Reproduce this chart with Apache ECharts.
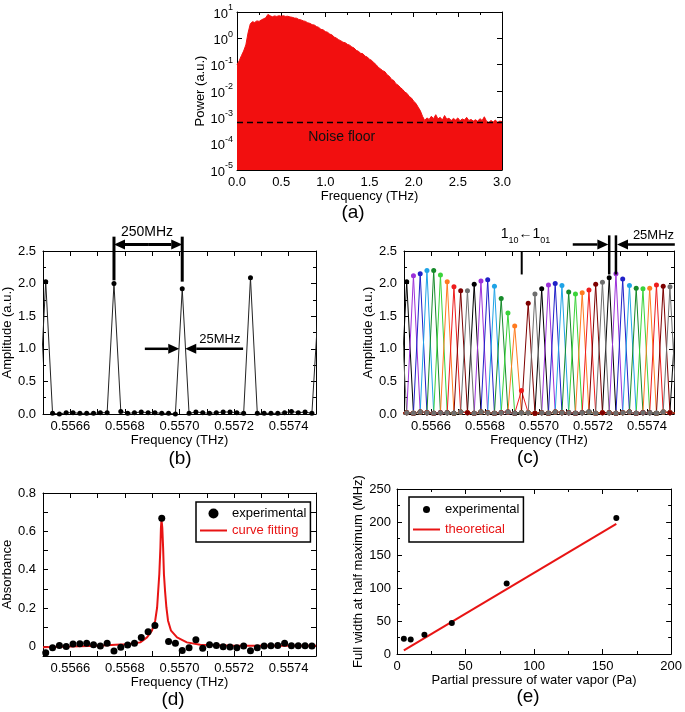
<!DOCTYPE html>
<html><head><meta charset="utf-8">
<script src="https://cdn.jsdelivr.net/npm/echarts@6/dist/echarts.min.js"></script>
<style>html,body{margin:0;padding:0;background:#fff}#c{width:685px;height:712px}</style>
</head><body><div id="c"></div>
<script>
const FONT = '"Liberation Sans", Arial, Helvetica, sans-serif';

// ---------- (a) THz power spectrum ----------
const specStart = 0.0, specStep = 0.025;           // THz
const specPower = [
 0.10,0.14,0.22,0.33,0.56,1.6,3.5,4.3,4.0,4.6,
 4.4,5.0,5.5,6.0,8.1,7.2,6.6,7.1,6.8,7.2,
 6.9,7.2,6.8,6.9,6.5,6.3,5.9,5.8,5.2,5.0,
 4.6,4.4,3.9,3.7,3.3,3.2,2.8,2.6,2.2,2.1,
 1.8,1.7,1.45,1.35,1.12,1.02,0.89,0.81,0.71,0.68,
 0.59,0.55,0.47,0.43,0.35,0.32,0.27,0.26,0.21,0.195,
 0.16,0.145,0.118,0.10,0.079,0.069,0.059,0.054,0.041,0.036,
 0.0275,0.025,0.0186,0.0166,0.0135,0.0115,0.0091,0.0081,0.0062,0.0054,
 0.0041,0.0034,0.00245,0.0018,0.0011,7.6e-4,9.5e-4,8.3e-4,1.1e-3,8.9e-4,
 1.26e-3,8.7e-4,1.0e-3,7.9e-4,1.17e-3,8.5e-4,9.3e-4,7.6e-4,9.1e-4,7.9e-4,
 9.5e-4,7.4e-4,8.7e-4,7.9e-4,1.0e-3,7.6e-4,8.3e-4,7.2e-4,8.1e-4,7.1e-4,
 8.9e-4,7.6e-4,1.05e-3,7.1e-4,6.3e-4,7.6e-4,6.6e-4,7.9e-4,6.3e-4,7.2e-4,
 6.9e-4
];
const noiseFloor = 6.4e-4;
const thzMin = 0, thzMax = 3.0, thzInterval = 0.5;
const powerMin = 1e-5, powerMax = 10;

// ---------- frequency grid shared by (b), (c), (d) : 25 MHz steps ----------
const gridStart = 0.556485, gridStep = 0.000025;   // THz, first point index -1
const freqTicks  = [0.5565,0.5566,0.5567,0.5568,0.5569,0.5570,0.5571,0.5572,0.5573,0.5574,0.5575];
const freqLabels = [0.5566,0.5568,0.5570,0.5572,0.5574];

// ---------- (b) single comb, amplitude ----------
const ampB = [0.0,
 2.03,0.01,0.0,0.02,0.02,0.01,0.01,0.01,0.02,0.02,
 2.00,0.04,0.01,0.02,0.03,0.02,0.02,0.01,0.01,0.0,
 1.92,0.01,0.03,0.02,0.01,0.02,0.03,0.03,0.02,0.01,
 2.09,0.01,0.01,0.01,0.01,0.02,0.04,0.02,0.03,0.01,
 1.75];

// ---------- (c) 10 interleaved combs ----------
const combColors = ['#000000','#9b30d9','#2020c8','#1fa3e6','#168a2a','#3ad33a','#ff7a1f','#ee1c1c','#7d0000','#6e6e6e'];
const peaksC = [1.90,
 2.03,2.12,2.15,2.20,2.20,2.13,2.03,1.95,1.89,1.89,
 1.99,2.04,2.06,1.96,1.77,1.55,1.35,0.36,1.70,1.84,
 1.92,1.98,2.00,1.97,1.87,1.84,1.86,1.90,1.99,2.02,
 2.09,2.15,2.07,1.97,1.93,1.92,1.93,1.98,1.96,1.95,
 1.75];
const baseC = [0.01,
 0.02,0.01,0.03,0.02,0.01,0.02,0.02,0.01,0.03,0.02,
 0.01,0.03,0.02,0.01,0.02,0.03,0.01,0.02,0.02,0.01,
 0.02,0.01,0.03,0.02,0.02,0.01,0.02,0.03,0.01,0.02,
 0.02,0.01,0.02,0.03,0.01,0.02,0.02,0.01,0.03,0.02,
 0.01];

// ---------- (d) absorbance ----------
const absD = [
 -0.033,-0.007,0.005,0.0,0.012,0.014,0.017,0.009,0.002,0.016,
 -0.024,-0.005,0.007,0.017,0.047,0.076,0.109,0.668,0.026,0.016,
 -0.021,-0.007,0.035,-0.010,0.009,0.005,-0.002,-0.003,-0.007,0.002,
 -0.023,-0.007,0.002,0.003,0.005,0.016,0.003,0.003,0.003,0.002];
const fitF = [0.5565,0.5566,0.5567,0.55675,0.5568,0.55683,0.556856,0.556881,0.556899,0.556911,
 0.556918,0.556922,0.556926,0.55693,0.556932,0.556934,0.556937,0.55694,0.556943,0.556947,
 0.556952,0.556958,0.556969,0.556991,0.557027,0.557076,0.5572,0.5573,0.5574,0.5575];
const fitA = [-0.004,-0.001,0.004,0.008,0.011,0.015,0.021,0.047,0.082,0.134,
 0.203,0.29,0.376,0.514,0.618,0.662,0.618,0.514,0.376,0.29,
 0.203,0.134,0.082,0.047,0.021,0.009,0.004,0.003,0.004,0.004];
const absTicks  = [0,0.1,0.2,0.3,0.4,0.5,0.6,0.7,0.8];
const absLabels = [0,0.2,0.4,0.6,0.8];

// ---------- (e) FWHM vs pressure ----------
const pressure = [5,10,20,40,80,160];
const fwhm     = [23,22,29,47,107,206];
const theoP = [5,160];
const theoW = [5.5,197];

// ================= build =================
const RED = '#e81414';
function freqAt(k){ return +(gridStart + (k + 1) * gridStep).toFixed(6); } // k from -1
const gridDefs = [
  {left:237, top:12,  width:265, height:158},
  {left:43,  top:251, width:273, height:163},
  {left:404, top:251, width:270, height:163},
  {left:43,  top:493, width:273, height:163},
  {left:397, top:489, width:275, height:165}
];
const tickStyle = {color:'#000', width:1};
function axisPair(dim, gi, o){
  const common = {
    gridIndex: gi, type: o.type || 'value', min: o.min, max: o.max,
    splitLine:{show:false}, minorSplitLine:{show:false},
    axisLine:{show:true, onZero:false, lineStyle:{color:'#000', width:1}},
    axisTick:{show:true, inside:true, length:5, lineStyle:tickStyle},
    minorTick:{show: !!o.minor, splitNumber: o.minor || 2, length:3, lineStyle:tickStyle}
  };
  if (o.interval !== undefined) common.interval = o.interval;
  if (o.splitNumber !== undefined) common.splitNumber = o.splitNumber;
  if (o.logBase) common.logBase = o.logBase;
  if (o.ticks) common.axisTick.customValues = o.ticks;
  const main = Object.assign({}, common, {
    position: dim === 'x' ? 'bottom' : 'left',
    name: o.name, nameLocation:'middle', nameGap:o.nameGap,
    nameTextStyle:{fontFamily:FONT, fontSize:13, color:'#000'},
    axisLabel:{show:true, color:'#000', fontFamily:FONT, fontSize:13, margin: o.margin || 6,
      formatter:o.fmt, rich:o.rich}
  });
  if (o.labels) main.axisLabel.customValues = o.labels;
  const other = Object.assign({}, common, {position: dim === 'x' ? 'top' : 'right', axisLabel:{show:false}});
  return [main, other];
}
const fmtFreq = v => Number(v).toFixed(4);
const xAxes = [], yAxes = [];
function push(arr, pair){ arr.push(pair[0], pair[1]); }
// (a)
push(xAxes, axisPair('x',0,{min:thzMin,max:thzMax,interval:thzInterval,minor:2,name:'Frequency (THz)',nameGap:15,fmt:v=>Number(v).toFixed(1)}));
push(yAxes, axisPair('y',0,{type:'log',logBase:10,min:powerMin,max:powerMax,splitNumber:6,name:'Power (a.u.)',nameGap:30,margin:4,
  fmt:v=>'{b|10}{s|'+Math.round(Math.log10(v))+'}',
  rich:{b:{fontFamily:FONT,fontSize:13,color:'#000',lineHeight:17,verticalAlign:'bottom'},
        s:{fontFamily:FONT,fontSize:9,color:'#000',lineHeight:9,verticalAlign:'top'}}}));
// (b)
push(xAxes, axisPair('x',1,{min:0.5565,max:0.5575,ticks:freqTicks,labels:freqLabels,fmt:fmtFreq,name:'Frequency (THz)',nameGap:17}));
push(yAxes, axisPair('y',1,{min:0,max:2.5,interval:0.5,minor:2,fmt:v=>Number(v).toFixed(1),name:'Amplitude (a.u.)',nameGap:29,margin:7}));
// (c)
push(xAxes, axisPair('x',2,{min:0.5565,max:0.5575,ticks:freqTicks,labels:freqLabels,fmt:fmtFreq,name:'Frequency (THz)',nameGap:16}));
push(yAxes, axisPair('y',2,{min:0,max:2.5,interval:0.5,minor:2,fmt:v=>Number(v).toFixed(1),name:'Amplitude (a.u.)',nameGap:27,margin:7}));
// (d)
push(xAxes, axisPair('x',3,{min:0.5565,max:0.5575,ticks:freqTicks,labels:freqLabels,fmt:fmtFreq,name:'Frequency (THz)',nameGap:16}));
push(yAxes, axisPair('y',3,{min:-0.05,max:0.8,ticks:absTicks,labels:absLabels,fmt:v=>(Math.abs(v)<1e-9?'0':Number(v).toFixed(1)),name:'Absorbance',nameGap:28,margin:7}));
// (e)
push(xAxes, axisPair('x',4,{min:0,max:200,interval:50,minor:2,fmt:v=>String(v),name:'Partial pressure of water vapor (Pa)',nameGap:18}));
push(yAxes, axisPair('y',4,{min:0,max:250,interval:50,minor:2,fmt:v=>String(v),name:'Full width at half maximum (MHz)',nameGap:28,margin:6}));

const series = [];
// (a)
series.push({type:'line', name:'spectrum', xAxisIndex:0, yAxisIndex:0, showSymbol:false, symbol:'none',
  data: specPower.map((p,i)=>[+(specStart + i*specStep).toFixed(3), p]),
  lineStyle:{color:'#f20f0f', width:1}, areaStyle:{color:'#f20f0f', opacity:1, origin:'start'}});
series.push({type:'line', name:'noise floor', xAxisIndex:0, yAxisIndex:0, symbol:'none', showSymbol:false, z:5,
  data:[[thzMin, noiseFloor],[thzMax, noiseFloor]], lineStyle:{color:'#000', type:[6,4], width:1.5}});
// (b)
series.push({type:'line', name:'combB', xAxisIndex:2, yAxisIndex:2, symbol:'circle', symbolSize:5, showAllSymbol:true,
  data: ampB.map((a,i)=>[freqAt(i-1), a]), lineStyle:{color:'#222', width:1}, itemStyle:{color:'#000'}, clip:true});
// (c)
for (let s = 0; s < 10; s++) {
  const d = [];
  for (let i = 0; i < peaksC.length; i++) {
    const k = i - 1;
    d.push([freqAt(k), (((k % 10) + 10) % 10) === s ? peaksC[i] : baseC[i]]);
  }
  series.push({type:'line', name:'comb'+s, xAxisIndex:4, yAxisIndex:4, symbol:'circle', symbolSize:5, showAllSymbol:true,
    data:d, lineStyle:{color:combColors[s], width:1}, itemStyle:{color:combColors[s]}, clip:true});
}
// (d)
series.push({type:'scatter', name:'experimental', xAxisIndex:6, yAxisIndex:6, symbolSize:7,
  data: absD.map((a,i)=>[freqAt(i), a]), itemStyle:{color:'#000', opacity:1}, z:3});
series.push({type:'line', name:'curve fitting', xAxisIndex:6, yAxisIndex:6, symbol:'none', showSymbol:false,
  data: fitF.map((f,i)=>[f, fitA[i]]), lineStyle:{color:RED, width:2}, itemStyle:{color:RED}, z:2});
// (e)
series.push({type:'scatter', name:'experimental', xAxisIndex:8, yAxisIndex:8, symbolSize:6,
  data: pressure.map((p,i)=>[p, fwhm[i]]), itemStyle:{color:'#000', opacity:1}, z:3});
series.push({type:'line', name:'theoretical', xAxisIndex:8, yAxisIndex:8, symbol:'none', showSymbol:false,
  data: theoP.map((p,i)=>[p, theoW[i]]), lineStyle:{color:RED, width:2}, itemStyle:{color:RED}, z:2});

const lineIcon = 'path://M0,0H27V2H0Z';
const legendCommon = {orient:'vertical', selectedMode:false, borderColor:'#000', borderWidth:1.5, borderRadius:0,
  backgroundColor:'#fff', itemWidth:27, textStyle:{fontFamily:FONT, fontSize:13, color:'#000'}};
const option = {
  animation:false,
  grid: gridDefs.map(g => Object.assign({containLabel:false, show:false}, g)),
  xAxis: xAxes, yAxis: yAxes, series,
  legend:[
    Object.assign({}, legendCommon, {left:196, top:502, padding:[5,4,5,4], itemGap:4, itemHeight:10,
      data:[{name:'experimental', icon:'circle', itemStyle:{color:'#000', opacity:1}},
            {name:'curve fitting', icon:lineIcon, itemStyle:{color:RED}, textStyle:{color:RED}}]}),
    Object.assign({}, legendCommon, {left:409, top:497, padding:[6,4,6,4], itemGap:7, itemHeight:7,
      data:[{name:'experimental', icon:'circle', itemStyle:{color:'#000', opacity:1}},
            {name:'theoretical', icon:lineIcon, itemStyle:{color:RED}, textStyle:{color:RED}}]})
  ]
};
const chart = echarts.init(document.getElementById('c'), null, {renderer:'canvas'});
chart.setOption(option);

// ---------- annotations placed through the axes ----------
const g = [];
const P = (si, x, y) => chart.convertToPixel({seriesIndex:si}, [x, y]);
function vline(si, x, y0, y1, w){ const a=P(si,x,y0), b=P(si,x,y1);
  g.push({type:'line', z:100, shape:{x1:a[0],y1:a[1],x2:b[0],y2:b[1]}, style:{stroke:'#000', lineWidth:w}}); }
function arrow(si, xTail, xTip, y, w){ const t=P(si,xTail,y), h=P(si,xTip,y);
  const dir = Math.sign(h[0]-t[0]), L=11, H=5, base=h[0]-dir*L;
  g.push({type:'line', z:100, shape:{x1:t[0],y1:t[1],x2:base,y2:h[1]}, style:{stroke:'#000', lineWidth:w}});
  g.push({type:'polygon', z:100, shape:{points:[[h[0],h[1]],[base,h[1]-H],[base,h[1]+H]]}, style:{fill:'#000'}}); }
function label(x, y, text, size, color, rich){
  g.push({type:'text', z:100, x, y, style:{text, fontFamily:FONT, fontSize:size, fill:color||'#000', align:'center', verticalAlign:'middle', rich}}); }
function dlabel(si, fx, fy, text, size, color, rich){ const p=P(si,fx,fy); label(p[0], p[1], text, size, color, rich); }

// (a) noise floor text
dlabel(0, 1.185, 1.8e-4, 'Noise floor', 14, '#111');
// (b)
const SB = 2, SC = 3;
vline(SB, 0.55676, 2.72, 2.05, 3);
vline(SB, 0.55701, 2.72, 2.03, 3);
arrow(SB, 0.556885, 0.55676, 2.60, 3);
arrow(SB, 0.556885, 0.55701, 2.60, 3);
dlabel(SB, 0.556881, 2.786, '250MHz', 14);
arrow(SB, 0.556873, 0.556999, 1.0, 2.5);
arrow(SB, 0.557233, 0.557021, 1.0, 2.5);
dlabel(SB, 0.557148, 1.144, '25MHz', 13);
// (c)
dlabel(SC, 0.55695, 2.73, '{n|1}{s|10}{n|←1}{s|01}', 14, '#000',
  {n:{fontFamily:FONT, fontSize:14, lineHeight:18, verticalAlign:'top'},
   s:{fontFamily:FONT, fontSize:9, lineHeight:9, verticalAlign:'bottom'}});
vline(SC, 0.556936, 2.485, 2.14, 2);
vline(SC, 0.55726, 2.74, 2.14, 2.5);
vline(SC, 0.557285, 2.74, 2.14, 2.5);
arrow(SC, 0.557125, 0.557257, 2.60, 2.5);
arrow(SC, 0.557503, 0.557289, 2.60, 2.5);
dlabel(SC, 0.557424, 2.74, '25MHz', 13);
// panel letters
label(353, 213, '(a)', 19);
label(180, 459, '(b)', 19);
label(528, 458, '(c)', 19);
label(173, 700, '(d)', 19);
label(528, 697, '(e)', 19);
chart.setOption({graphic:g});
</script>
</body></html>
